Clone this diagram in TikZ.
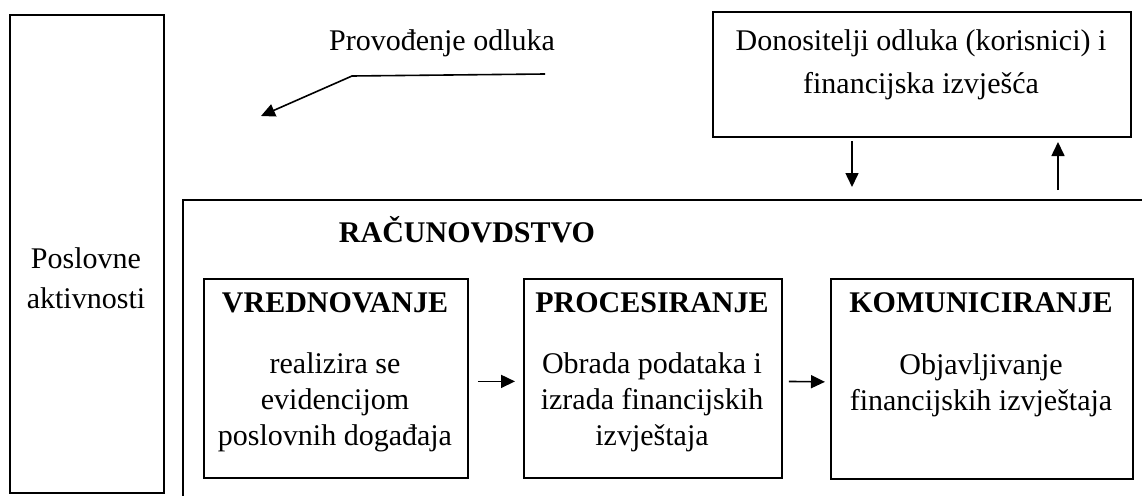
\documentclass[tikz,border=0pt]{standalone}
\usepackage{fontspec}
\setmainfont{Liberation Serif}
\usetikzlibrary{arrows.meta}
\begin{document}
\begin{tikzpicture}[x=1pt,y=-1pt,
  box/.style={draw, line width=1.8pt, inner sep=0pt, anchor=north west},
  txt/.style={font=\fontsize{30}{36}\selectfont, align=center, inner sep=0pt},
  txtw/.style={font=\fontsize{30}{40}\selectfont, align=center, inner sep=0pt},
  txtd/.style={font=\fontsize{30}{43}\selectfont, align=center, inner sep=0pt},
  ttl/.style={font=\fontsize{30}{36}\selectfont\bfseries, inner sep=0pt},
  arr/.style={line width=1.6pt, -{Triangle[length=14pt,width=13pt]}}]
\useasboundingbox (0,0) rectangle (1142,495);
% left box
\node[box, minimum width=154pt, minimum height=478pt] (posl) at (9,14) {};
\node[txtw] (posltxt) at (86,278) {Poslovne\\aktivnosti};
% top right box
\node[box, minimum width=418pt, minimum height=125pt] (don) at (712,11) {};
\node[txtd] (dontxt) at (921,65) {Donositelji odluka (korisnici) i\\financijska izvješća};
% Provodjenje
\node[txt] (prov) at (442,43) {Provođenje odluka};
\coordinate (p1) at (545,74);
\coordinate (p2) at (352,76);
\coordinate (p3) at (261,116);
\draw[arr] (p1) -- (p2) -- (p3);
% big open box
\coordinate (bbr) at (1150,200);
\coordinate (bbc) at (183,200);
\coordinate (bbb) at (183,500);
\draw[line width=1.8pt] (bbr) -- (bbc) -- (bbb);
\node[ttl] (rac) at (467,230) {RAČUNOVDSTVO};
% vertical arrows
\coordinate (d1) at (852,141);
\coordinate (d2) at (852,187);
\coordinate (u1) at (1058,190);
\coordinate (u2) at (1058,142);
\draw[arr] (d1) -- (d2);
\draw[arr] (u1) -- (u2);
% inner boxes
\node[box, minimum width=264pt, minimum height=199pt] (A) at (203,278) {};
\node[box, minimum width=258pt, minimum height=199pt] (B) at (523,278) {};
\node[box, minimum width=302pt, minimum height=200pt] (C) at (830,278) {};
\node[ttl] (At) at (335,303) {VREDNOVANJE};
\node[ttl] (Bt) at (652,303) {PROCESIRANJE};
\node[ttl] (Ct) at (981,303) {KOMUNICIRANJE};
\node[txt] (Ab) at (335,402) {realizira se\\evidencijom\\poslovnih događaja};
\node[txt] (Bb) at (652,402) {Obrada podataka i\\izrada financijskih\\izvještaja};
\node[txt] (Cb) at (981,385) {Objavljivanje\\financijskih izvještaja};
\draw[arr, shorten <=9pt, shorten >=8pt] ([yshift=-3pt]A.east) -- ([yshift=-3pt]B.west);
\draw[arr, shorten <=6pt, shorten >=5pt] ([yshift=-3pt]B.east) -- ([yshift=-3pt]C.west);
\end{tikzpicture}
\end{document}
